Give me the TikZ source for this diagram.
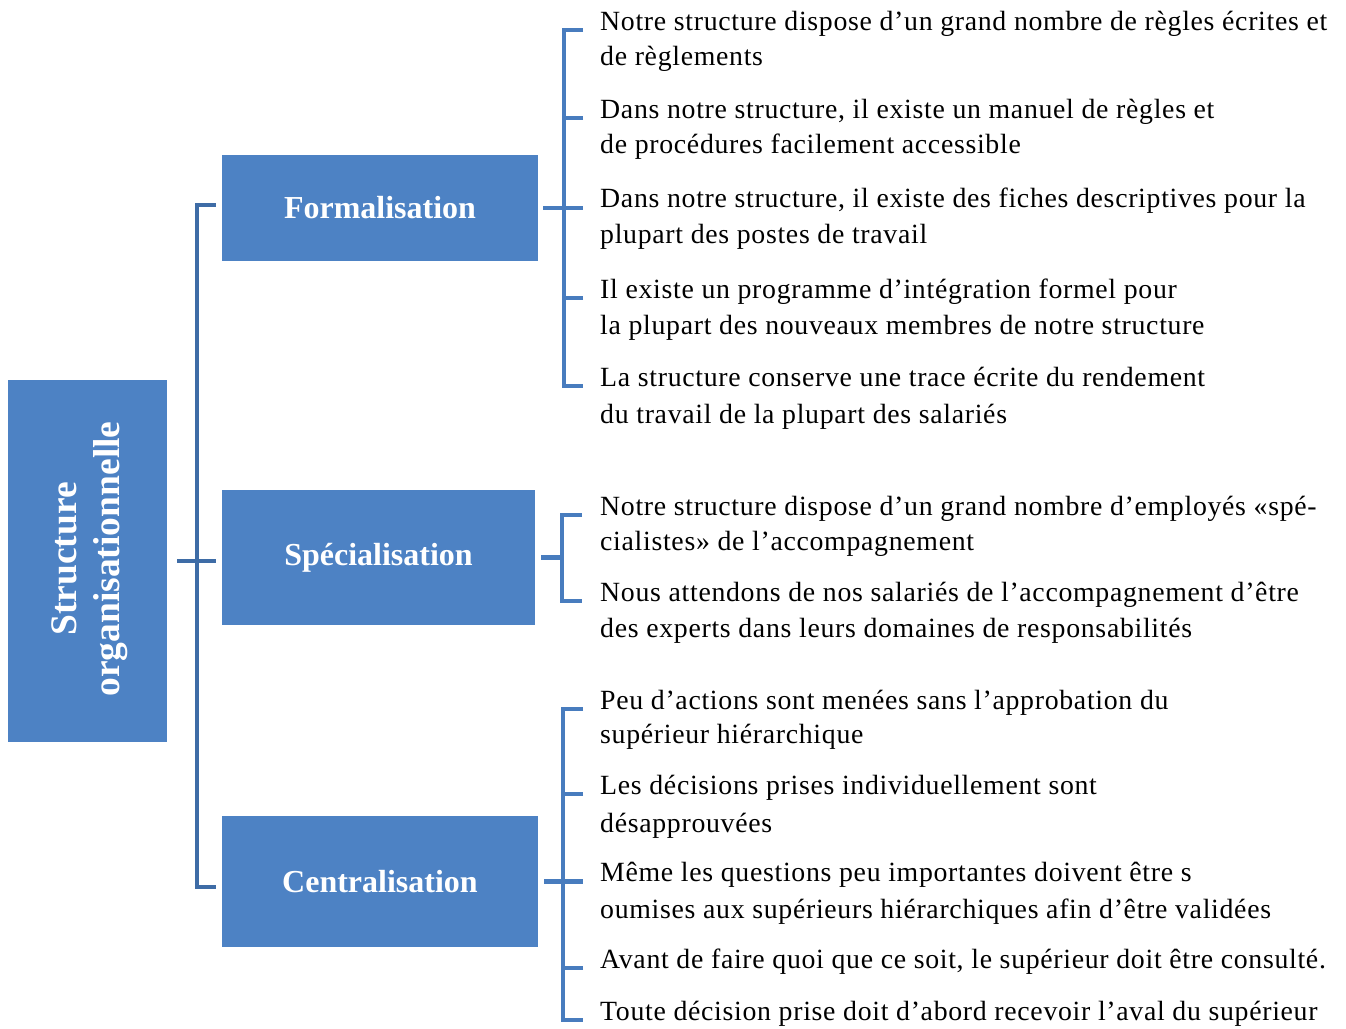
\documentclass[tikz,border=0pt]{standalone}
\usepackage{fontspec}
\setmainfont{Liberation Serif}
\newfontfamily\itemfont[LetterSpace=2.5]{Liberation Serif}
\definecolor{boxblue}{RGB}{77,130,196}
\definecolor{leftline}{RGB}{62,108,166}
\definecolor{rightline}{RGB}{72,124,190}
\begin{document}
\begin{tikzpicture}[x=1pt,y=-1pt,
  box/.style={fill=boxblue, draw=none, inner sep=0pt, text=white, font=\bfseries\fontsize{32pt}{38pt}\selectfont},
  item/.style={anchor=base west, inner sep=0pt, font=\itemfont\fontsize{27.8pt}{35pt}\selectfont},
  ltree/.style={draw=leftline, line width=4pt},
  rtree/.style={draw=rightline, line width=4.5pt}]
\useasboundingbox (0,0) rectangle (1346,1028);

% boxes
\node[box, minimum width=159pt, minimum height=362pt] (root) at (87.5,561) {};
\node[rotate=90, text=white, inner sep=0pt, align=center, font=\bfseries\fontsize{37.5pt}{43pt}\selectfont] (rootlabel) at (90,559) {Structure\\organisationnelle};
\node[box, minimum width=316pt, minimum height=106pt] (form) at (380,208) {Formalisation};
\node[box, minimum width=313pt, minimum height=135pt] (spec) at (378.5,557.5) {Spécialisation};
\node[box, minimum width=316pt, minimum height=131pt] (cent) at (380,881.5) {Centralisation};

% items
\node[item] (f1a) at (600,30) {Notre structure dispose d’un grand nombre de règles écrites et};
\node[item] (f1b) at (600,65) {de règlements};
\node[item] (f2a) at (600,118) {Dans notre structure, il existe un manuel de règles et};
\node[item] (f2b) at (600,153) {de procédures facilement accessible};
\node[item] (f3a) at (600,207) {Dans notre structure, il existe des fiches descriptives pour la};
\node[item] (f3b) at (600,243) {plupart des postes de travail};
\node[item] (f4a) at (600,298) {Il existe un programme d’intégration formel pour};
\node[item] (f4b) at (600,334) {la plupart des nouveaux membres de notre structure};
\node[item] (f5a) at (600,386) {La structure conserve une trace écrite du rendement};
\node[item] (f5b) at (600,423) {du travail de la plupart des salariés};

\node[item] (s1a) at (600,515) {Notre structure dispose d’un grand nombre d’employés «spé-};
\node[item] (s1b) at (600,550) {cialistes» de l’accompagnement};
\node[item] (s2a) at (600,601) {Nous attendons de nos salariés de l’accompagnement d’être};
\node[item] (s2b) at (600,637) {des experts dans leurs domaines de responsabilités};

\node[item] (c1a) at (600,709) {Peu d’actions sont menées sans l’approbation du};
\node[item] (c1b) at (600,743) {supérieur hiérarchique};
\node[item] (c2a) at (600,794) {Les décisions prises individuellement sont};
\node[item] (c2b) at (600,832) {désapprouvées};
\node[item] (c3a) at (600,881) {Même les questions peu importantes doivent être s};
\node[item] (c3b) at (600,918) {oumises aux supérieurs hiérarchiques afin d’être validées};
\node[item] (c4a) at (600,968) {Avant de faire quoi que ce soit, le supérieur doit être consulté.};
\node[item] (c5a) at (600,1020) {Toute décision prise doit d’abord recevoir l’aval du supérieur};

% left tree
\draw[ltree] ([xshift=10pt]root.east) -- ([xshift=-6pt]root.east -| spec.west);
\draw[ltree] ([xshift=-6pt,yshift=3pt]form.west) -- ++(-19pt,0) |- ([xshift=-6pt,yshift=-5.5pt]cent.west);

% formalisation bracket
\draw[rtree] ([xshift=-17pt]f1a.base west) -- ++(-19pt,0) |- ([xshift=-17pt]f5a.base west);
\draw[rtree] ([xshift=-17pt]f2a.base west) -- ++(-19pt,0);
\draw[rtree] ([xshift=-17pt]f4a.base west) -- ++(-19pt,0);
\draw[rtree] ([xshift=5pt]form.east) -- ([xshift=-17pt]form.east -| f3a.west);

% specialisation bracket
\draw[rtree] ([xshift=-18pt]s1a.base west) -- ++(-20pt,0) |- ([xshift=-18pt]s2a.base west);
\draw[rtree] ([xshift=6pt]spec.east) -- ++(20pt,0);

% centralisation bracket
\draw[rtree] ([xshift=-17pt]c1a.base west) -- ++(-20pt,0) |- ([xshift=-17pt]c5a.base west);
\draw[rtree] ([xshift=-17pt]c2a.base west) -- ++(-20pt,0);
\draw[rtree] ([xshift=-17pt]c4a.base west) -- ++(-20pt,0);
\draw[rtree] ([xshift=6pt]cent.east) -- ([xshift=-17pt]cent.east -| c3a.west);
\end{tikzpicture}
\end{document}
